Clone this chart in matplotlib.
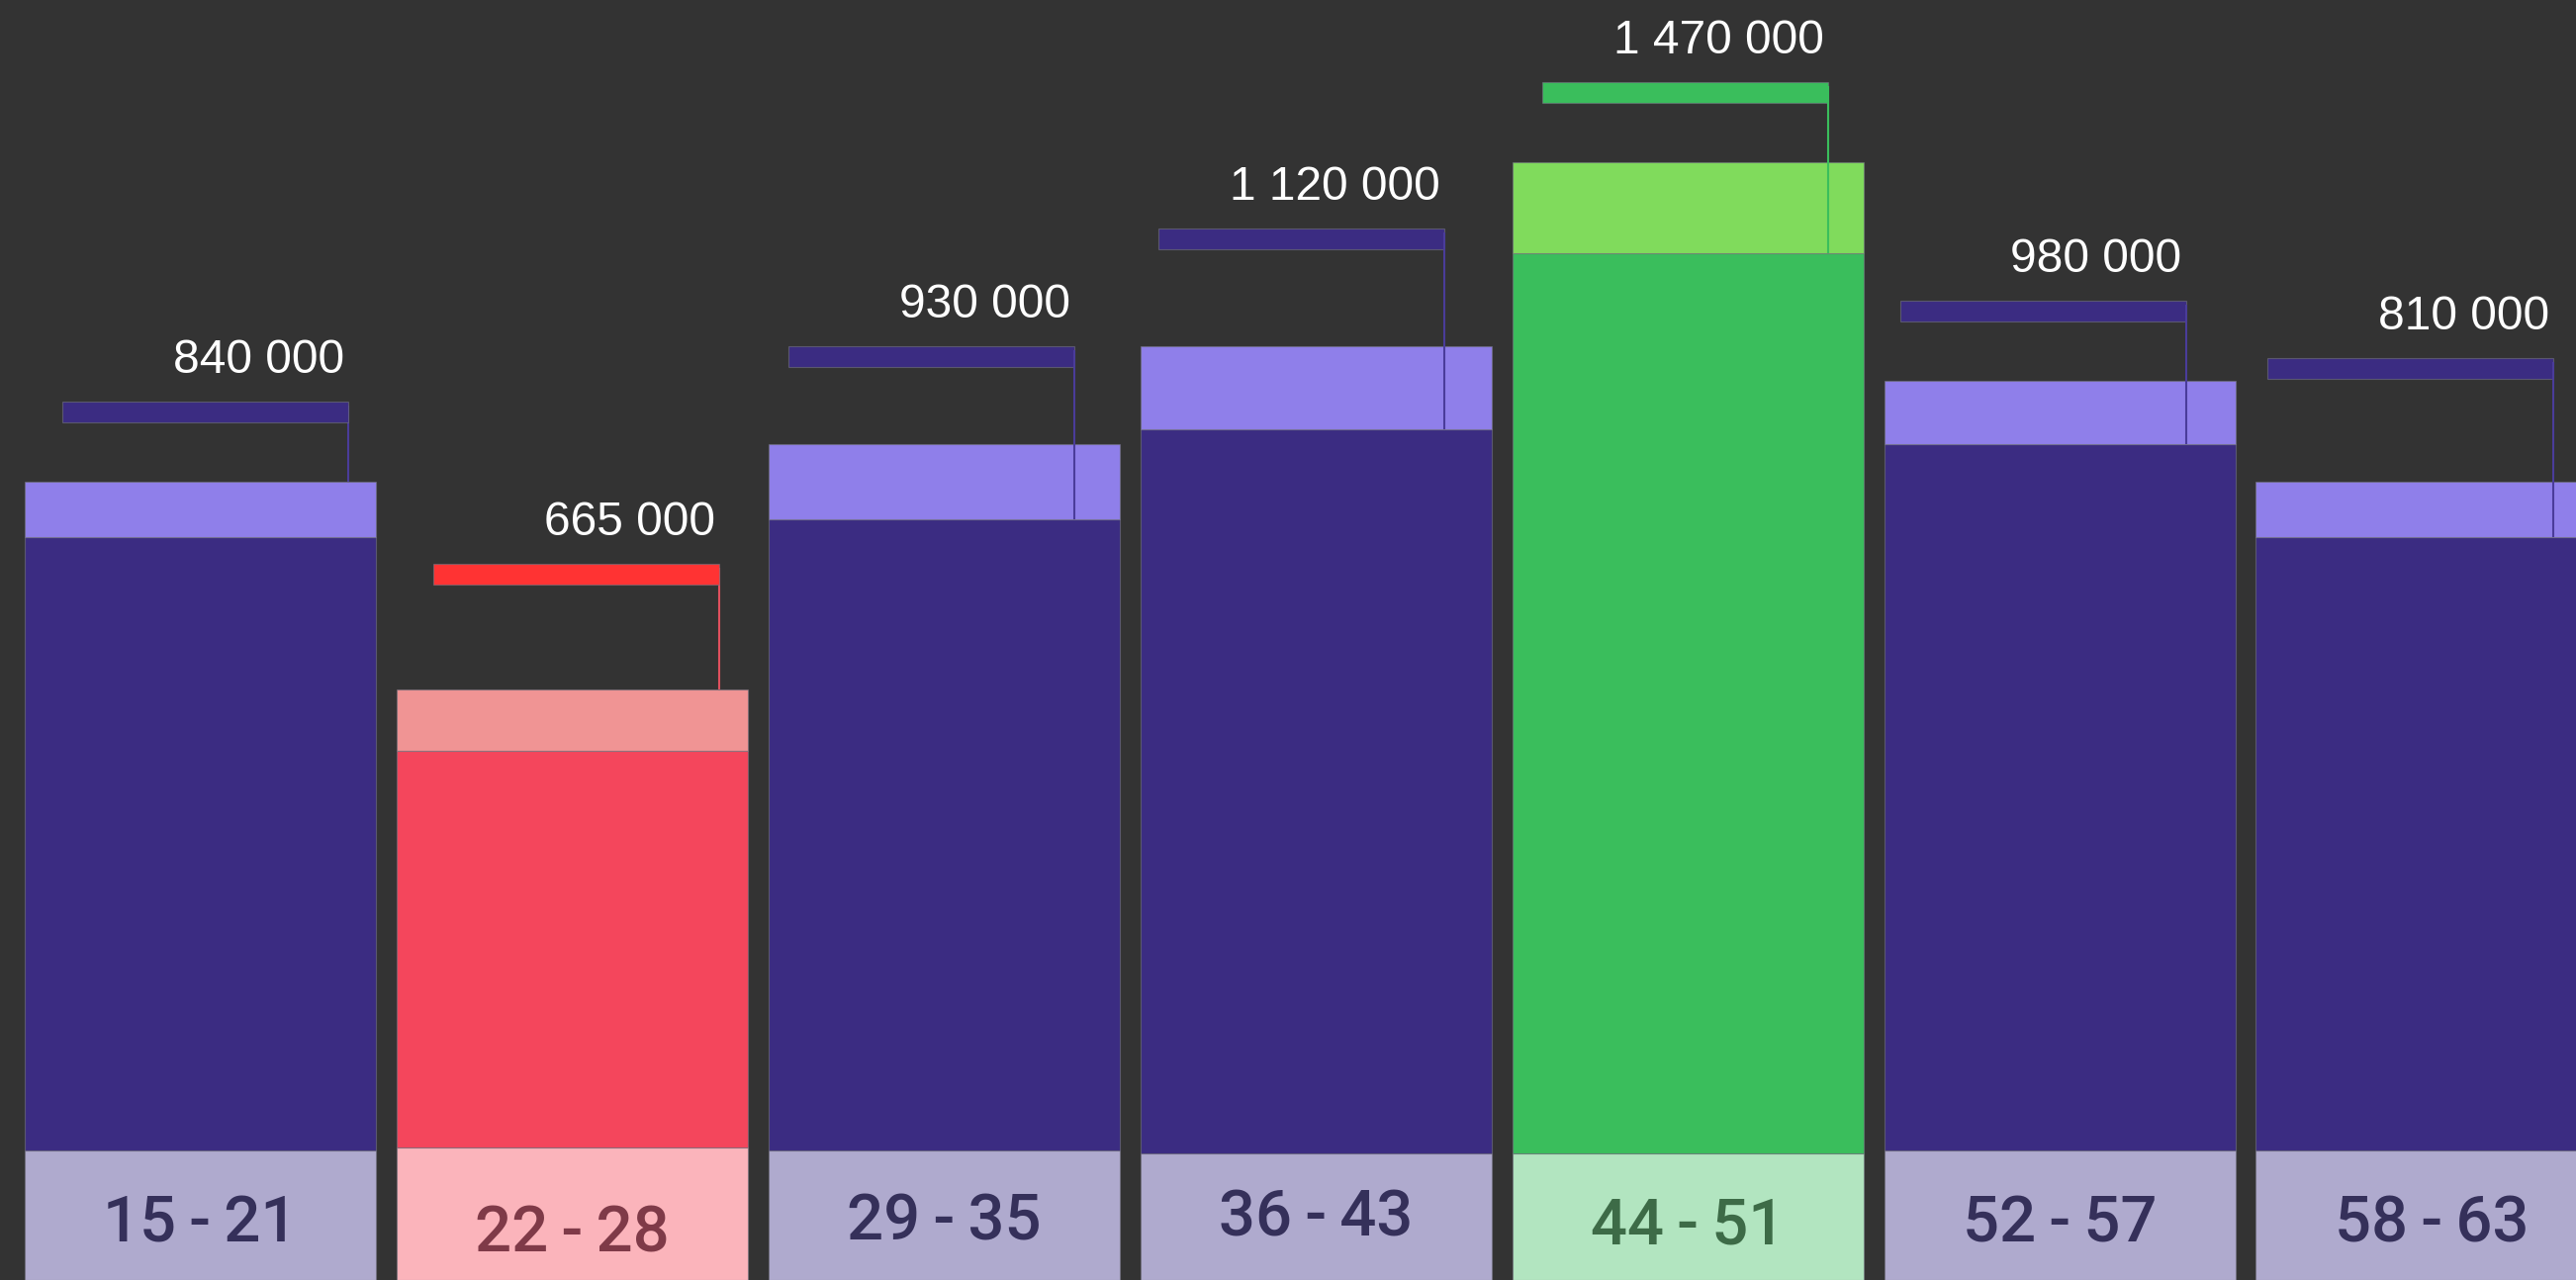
import matplotlib
matplotlib.use("Agg")
import matplotlib.pyplot as plt
from matplotlib.patches import Rectangle

# ---- data ----
categories = ["15-21", "22-28", "29-35", "36-43", "44-51", "52-57", "58-63"]
values = [840000, 665000, 930000, 1120000, 1470000, 980000, 810000]
# bar levels (in picture units, measured from the bottom)
cap_top = [807, 597, 845, 944, 1130, 909, 807]      # top of light cap
body_top = [751, 535, 769, 860, 1038, 845, 751]     # top of dark body
base_top = [131, 134, 131, 128, 128, 131, 131]      # top of label block
kind = ["normal", "low", "normal", "normal", "high", "normal", "normal"]

# ---- layout ----
bracket_top = [888, 724, 944, 1063, 1211, 990, 932]
bracket_left_off = [38, 37, 20, 18, 30, 16, 12]      # px from bar left edge
line_over_cap = [False, False, True, True, True, True, True]
label_shift = [0, -10, 2, 7, -2, 0, 0]

palette = {
    "normal": dict(body="#3b2c82", cap="#8f7fea", base="#afaace", text="#35305a", bracket="#3b2c82", line="#4a3c9a"),
    "low": dict(body="#f4465c", cap="#f09494", base="#fbb4bb", text="#7f3a48", bracket="#ff3333", line="#e0505e"),
    "high": dict(body="#3abe5c", cap="#80db5c", base="#b2e5c0", text="#3d6b47", bracket="#3abe5c", line="#3abe5c"),
}

W, H = 2604, 1294
fig = plt.figure(figsize=(W / 100, H / 100), dpi=100)
fig.patch.set_facecolor("#333333")
ax = fig.add_axes([0, 0, 1, 1])
ax.set_facecolor("#333333")
ax.set_xlim(0, W)
ax.set_ylim(0, H)
ax.axis("off")

first_left = 25
step = 375.9
bar_w = 355
bracket_w = 289
bracket_h = 21
edge = (0.45, 0.45, 0.5, 0.6)

for i, cat in enumerate(categories):
    c = palette[kind[i]]
    left = first_left + i * step
    cx = left + bar_w / 2
    # label block
    ax.add_patch(Rectangle((left, 0), bar_w, base_top[i], facecolor=c["base"],
                           edgecolor=edge, linewidth=0.8, zorder=2))
    # dark body
    ax.add_patch(Rectangle((left, base_top[i]), bar_w, body_top[i] - base_top[i],
                           facecolor=c["body"], edgecolor=edge, linewidth=0.8, zorder=2))
    # light cap
    ax.add_patch(Rectangle((left, body_top[i]), bar_w, cap_top[i] - body_top[i],
                           facecolor=c["cap"], edgecolor=edge, linewidth=0.8, zorder=3))
    # bracket
    bl = left + bracket_left_off[i]
    ax.add_patch(Rectangle((bl, bracket_top[i] - bracket_h), bracket_w, bracket_h,
                           facecolor=c["bracket"], edgecolor=edge, linewidth=0.8, zorder=4))
    # connector line
    end_y = body_top[i] if line_over_cap[i] else cap_top[i]
    ax.plot([bl + bracket_w, bl + bracket_w], [bracket_top[i] - 4, end_y],
            color=c["line"], linewidth=1.5, zorder=5 if line_over_cap[i] else 1,
            solid_capstyle="butt")
    # value text
    txt = f"{values[i]:,}".replace(",", " ")
    ax.text(bl + bracket_w - 4, bracket_top[i] + 29, txt, ha="right", va="baseline",
            color="white", fontsize=34.5, family=["Liberation Sans", "DejaVu Sans"], zorder=6)
    # category text
    ax.text(cx, 38 + label_shift[i], cat.replace("-", "\u2009-\u2009"), ha="center",
            va="baseline", color=c["text"], fontsize=47,
            family=["Roboto", "DejaVu Sans"], fontweight="medium", zorder=6)

fig.savefig("out.png", dpi=100, facecolor=fig.get_facecolor())
